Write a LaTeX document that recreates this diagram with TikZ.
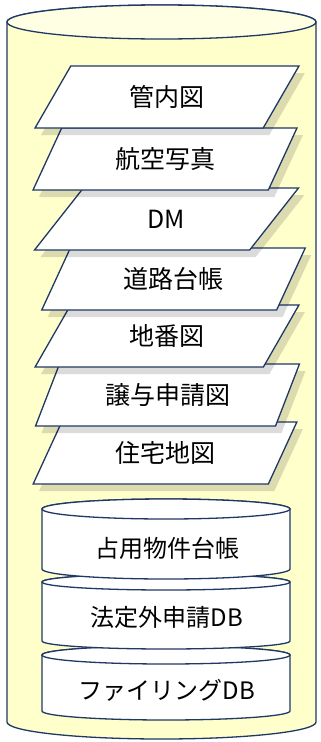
\documentclass[tikz,border=0pt]{standalone}
\usepackage{fontspec}
\newfontfamily\jpfont{Noto Sans CJK JP}
\usetikzlibrary{shapes.geometric,shadows}
\definecolor{edgeblue}{RGB}{31,56,100}
\definecolor{paleyellow}{RGB}{255,255,204}
\definecolor{lidyellow}{RGB}{255,255,228}
% body style, lid style, centre x, lid y, base y, x radius, y radius
\newcommand{\drum}[7]{%
	\draw[#1] (#3-#6,#4) -- (#3-#6,#5) arc[start angle=180,end angle=0,x radius=#6,y radius=#7] -- (#3+#6,#4) arc[start angle=0,end angle=-180,x radius=#6,y radius=#7] -- cycle;
	\draw[#2] (#3,#4) ellipse[x radius=#6,y radius=#7];}
\begin{document}
\begin{tikzpicture}[x=1pt,y=-1pt,font=\jpfont\fontsize{25}{30}\selectfont]
	\tikzstyle{layer} = [trapezium,trapezium left angle=59,trapezium right angle=121,trapezium stretches=true,minimum width=264,minimum height=62,inner sep=0,draw=edgeblue,line width=1.3pt,fill=white,drop shadow={shadow xshift=6pt,shadow yshift=-7pt,fill=black,opacity=0.14}]
	\tikzstyle{rim} = [draw=edgeblue,line width=1.3pt]
	\tikzstyle{dbname} = [font=\jpfont\fontsize{24}{28}\selectfont]
	\useasboundingbox (0,0) rectangle (321,742);
	% outer store
	\drum{rim,fill=paleyellow}{rim,fill=lidyellow}{161.5}{22}{722}{154.5}{17}
	% map layers, lowest first
	\node[layer](housing)at(165,453){住宅地図};
	\node[layer](transfer)at(167.5,395){譲与申請図};
	\node[layer](lot)at(167,336){地番図};
	\node[layer](road)at(173.5,279){道路台帳};
	\node[layer](dm)at(166.5,219){DM};
	\node[layer](aerial)at(165,159){航空写真};
	\node[layer](pipe)at(167,97){管内図};
	% databases
	\drum{rim,fill=white}{rim,fill=white}{166}{655}{711}{124}{9}
	\drum{rim,fill=white}{rim,fill=white}{166}{582}{641}{124}{8}
	\drum{rim,fill=white}{rim,fill=white}{166}{509}{569}{124}{10}
	\node[dbname](filing)at(167,690){ファイリングDB};
	\node[dbname](extralegal)at(167,617){法定外申請DB};
	\node[dbname](occupancy)at(167,548){占用物件台帳};
\end{tikzpicture}
\end{document}
